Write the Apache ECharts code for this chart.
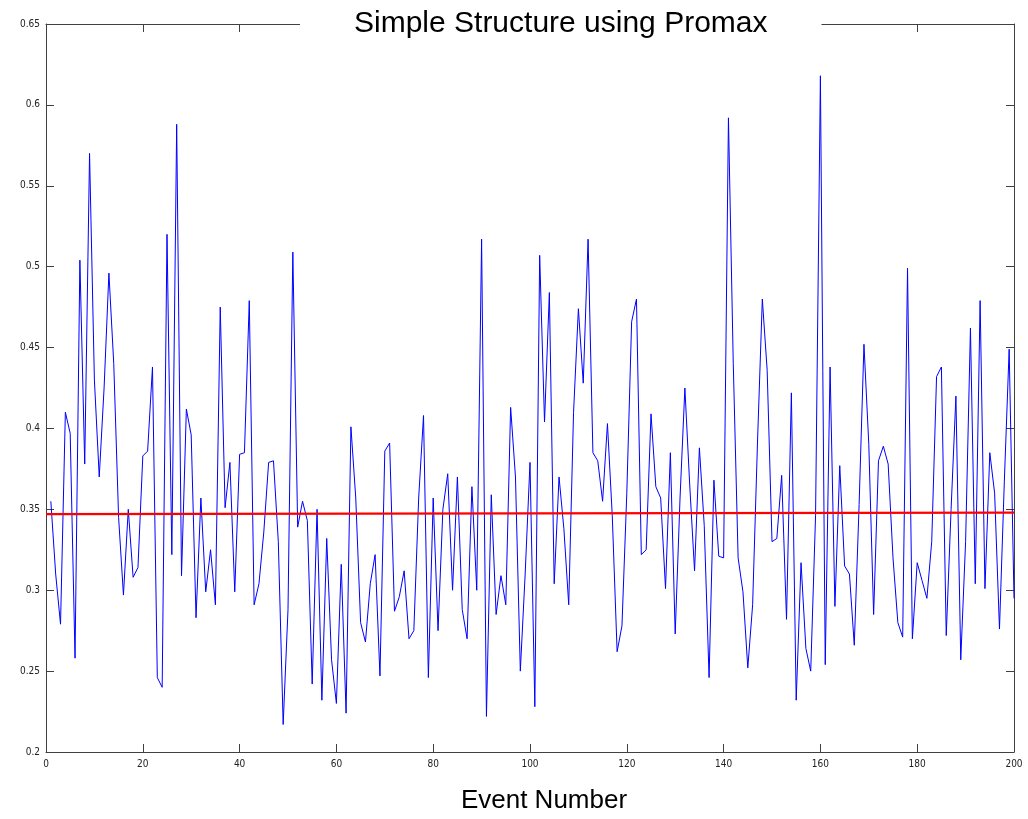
<!DOCTYPE html>
<html>
<head>
<meta charset="utf-8">
<script src="https://cdn.jsdelivr.net/npm/echarts@6/dist/echarts.min.js"></script>
<style>html,body{margin:0;padding:0;background:#fff;}#c{width:1028px;height:819px;}</style>
</head>
<body>
<div id="c"></div>
<script>
var titleText = 'Simple Structure using Promax';
var xLabel = 'Event Number';
var xTicks = [0, 20, 40, 60, 80, 100, 120, 140, 160, 180, 200];
var yTicks = [0.2, 0.25, 0.3, 0.35, 0.4, 0.45, 0.5, 0.55, 0.6, 0.65];
var values = [
0.355,0.31,0.279,0.41,0.397,0.258,0.504,0.378,0.57,0.43,
0.37,0.425,0.496,0.44,0.345,0.297,0.35,0.308,0.314,0.383,
0.386,0.438,0.246,0.24,0.52,0.322,0.588,0.309,0.412,0.396,
0.283,0.357,0.299,0.325,0.291,0.475,0.351,0.379,0.299,0.384,
0.385,0.479,0.291,0.304,0.336,0.379,0.38,0.33,0.217,0.288,
0.509,0.339,0.355,0.343,0.242,0.35,0.232,0.332,0.257,0.23,
0.316,0.224,0.401,0.357,0.28,0.268,0.304,0.322,0.247,0.386,
0.391,0.287,0.296,0.312,0.27,0.275,0.357,0.408,0.246,0.357,
0.275,0.35,0.372,0.3,0.37,0.288,0.27,0.364,0.3,0.517,
0.222,0.359,0.285,0.309,0.291,0.413,0.37,0.25,0.31,0.379,
0.228,0.507,0.404,0.484,0.304,0.37,0.338,0.291,0.41,0.474,
0.428,0.517,0.385,0.38,0.355,0.403,0.346,0.262,0.278,0.36,
0.466,0.48,0.322,0.325,0.409,0.364,0.357,0.301,0.385,0.273,
0.357,0.425,0.365,0.312,0.388,0.34,0.246,0.368,0.321,0.32,
0.592,0.44,0.32,0.299,0.252,0.291,0.391,0.48,0.436,0.33,
0.332,0.371,0.282,0.422,0.232,0.317,0.264,0.25,0.346,0.618,
0.254,0.438,0.29,0.377,0.315,0.31,0.266,0.353,0.452,0.39,
0.285,0.38,0.389,0.378,0.32,0.28,0.271,0.499,0.27,0.317,
0.306,0.295,0.33,0.432,0.438,0.272,0.35,0.42,0.257,0.33,
0.462,0.304,0.479,0.301,0.385,0.36,0.276,0.367,0.449,0.295
];
var fitX = [0, 200];
var fitY = [0.347, 0.348];

var lineData = values.map(function (v, i) { return [i + 1, v]; });
var fitData = fitX.map(function (x, i) { return [x, fitY[i]]; });

var axisColor = '#404040';
var chart = echarts.init(document.getElementById('c'), null, {renderer: 'canvas'});
chart.setOption({
  animation: false,
  backgroundColor: '#ffffff',
  title: {
    text: titleText,
    left: 300,
    top: 6,
    padding: [3, 54, 4, 54],
    backgroundColor: '#ffffff',
    z: 10,
    textStyle: {fontFamily: 'Liberation Sans', fontSize: 30, fontWeight: 'normal', color: '#000'}
  },
  grid: {left: 46, right: 14, top: 24, bottom: 60, containLabel: false},
  xAxis: [{
    type: 'value', min: 0, max: 200, interval: 20,
    name: xLabel, nameLocation: 'middle', nameGap: 36,
    nameTextStyle: {fontFamily: 'Liberation Sans', fontSize: 26, color: '#000', padding: [0, 0, 0, 28]},
    axisLine: {show: true, lineStyle: {color: axisColor, width: 1}},
    axisTick: {show: true, inside: true, length: 8, lineStyle: {color: axisColor}},
    axisLabel: {fontFamily: 'DejaVu Sans Condensed', fontSize: 10, color: '#222', margin: 7,
      formatter: function (v) { return xTicks.indexOf(v) >= 0 ? String(v) : ''; }},
    splitLine: {show: false}
  }, {
    type: 'value', min: 0, max: 200, interval: 20, position: 'top',
    axisLine: {show: true, onZero: false, lineStyle: {color: axisColor, width: 1}},
    axisTick: {show: true, inside: true, length: 8, lineStyle: {color: axisColor}},
    axisLabel: {show: false}, splitLine: {show: false}
  }],
  yAxis: [{
    type: 'value', min: 0.2, max: 0.65, interval: 0.05,
    axisLine: {show: true, lineStyle: {color: axisColor, width: 1}},
    axisTick: {show: true, inside: true, length: 8, lineStyle: {color: axisColor}},
    axisLabel: {fontFamily: 'DejaVu Sans Condensed', fontSize: 10, color: '#222', margin: 6,
      formatter: function (v) {
        var r = Math.round(v * 100) / 100;
        return yTicks.indexOf(r) >= 0 ? String(r) : '';
      }},
    splitLine: {show: false}
  }, {
    type: 'value', min: 0.2, max: 0.65, interval: 0.05, position: 'right',
    axisLine: {show: true, onZero: false, lineStyle: {color: axisColor, width: 1}},
    axisTick: {show: true, inside: true, length: 8, lineStyle: {color: axisColor}},
    axisLabel: {show: false}, splitLine: {show: false}
  }],
  series: [{
    type: 'line', data: lineData, showSymbol: false, symbol: 'none',
    lineStyle: {color: '#0000ff', width: 1}, z: 2
  }, {
    type: 'line', data: fitData, showSymbol: false, symbol: 'none',
    lineStyle: {color: '#ff0000', width: 2.2}, z: 3
  }]
});
</script>
</body>
</html>
